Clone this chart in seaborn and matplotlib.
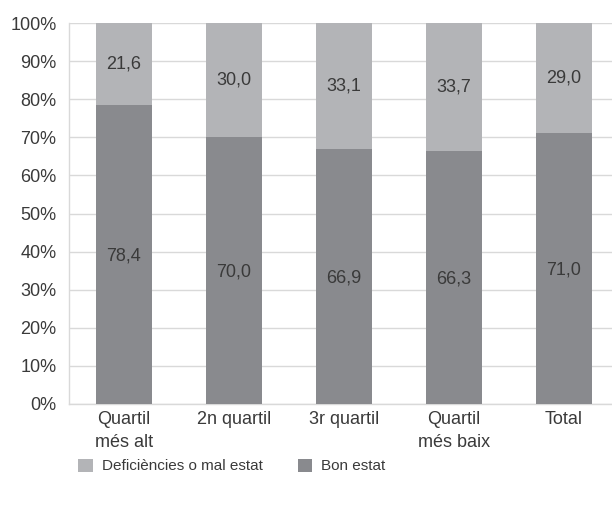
import matplotlib
matplotlib.use("Agg")
import matplotlib.pyplot as plt
import seaborn as sns
import pandas as pd
from matplotlib.patches import Patch

categories = ["Quartil\nmés alt", "2n quartil", "3r quartil", "Quartil\nmés baix", "Total"]
bon_estat = [78.4, 70.0, 66.9, 66.3, 71.0]
deficiencies = [21.6, 30.0, 33.1, 33.7, 29.0]

c_light = "#b3b4b7"
c_dark = "#898a8e"
c_text = "#3a3a3a"
c_grid = "#d9d9d9"

sns.set_style("white")
plt.rcParams["font.family"] = ["Liberation Sans", "DejaVu Sans"]

df = pd.DataFrame({"cat": categories, "bon": bon_estat, "def": deficiencies})
df["total"] = df["bon"] + df["def"]

fig = plt.figure(figsize=(6.12, 5.07), dpi=100)
ax = fig.add_axes([69 / 612, 103 / 507, 543 / 612, 381 / 507])

sns.barplot(data=df, x="cat", y="total", color=c_light, width=0.51, ax=ax,
            saturation=1, edgecolor="none", zorder=2)
sns.barplot(data=df, x="cat", y="bon", color=c_dark, width=0.51, ax=ax,
            saturation=1, edgecolor="none", zorder=3)

for i, (b, d) in enumerate(zip(bon_estat, deficiencies)):
    ax.text(i, b / 2 - 0.4, f"{b:.1f}".replace(".", ","), ha="center", va="center",
            fontsize=13, color=c_text, zorder=4)
    ax.text(i, b + d / 2, f"{d:.1f}".replace(".", ","), ha="center", va="center",
            fontsize=13, color=c_text, zorder=4)

ax.set_ylim(0, 100)
ax.set_xlim(-0.5, 4.44)
ax.set_yticks(range(0, 101, 10))
ax.set_yticklabels([f"{v}%" for v in range(0, 101, 10)])
ax.yaxis.grid(True, color=c_grid, linewidth=1, zorder=0)
ax.set_axisbelow(True)
ax.set_xlabel("")
ax.set_ylabel("")
ax.tick_params(axis="both", length=0, labelsize=13, colors=c_text)
ax.tick_params(axis="y", pad=9)
ax.tick_params(axis="x", pad=5)
for lbl in ax.get_xticklabels():
    lbl.set_linespacing(1.45)
for s in ["top", "right"]:
    ax.spines[s].set_visible(False)
for s in ["left", "bottom"]:
    ax.spines[s].set_color(c_grid)
    ax.spines[s].set_linewidth(1)

handles = [Patch(facecolor=c_light, edgecolor="none", label="Deficiències o mal estat"),
           Patch(facecolor=c_dark, edgecolor="none", label="Bon estat")]
fig.legend(handles=handles, loc="center left", bbox_to_anchor=(0.105, 0.081), ncol=2,
           frameon=False, fontsize=11, handlelength=0.95, handleheight=0.95,
           handletextpad=0.6, columnspacing=2.3, labelcolor=c_text)

fig.savefig("out.png", dpi=100)
